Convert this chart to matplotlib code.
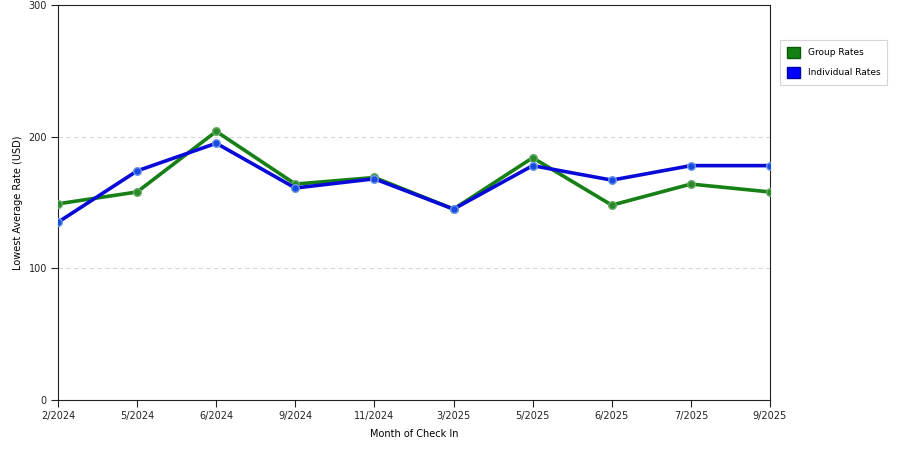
import matplotlib
matplotlib.use("Agg")
import matplotlib.pyplot as plt
from matplotlib.patches import Patch

months = ["2/2024", "5/2024", "6/2024", "9/2024", "11/2024", "3/2025",
          "5/2025", "6/2025", "7/2025", "9/2025"]
group_rates = [149, 158, 204, 164, 169, 145, 184, 148, 164, 158]
individual_rates = [135, 174, 195, 161, 168, 145, 178, 167, 178, 178]
y_ticks = [0, 100, 200, 300]

plt.rcParams['font.family'] = ['DejaVu Sans']
fig = plt.figure(figsize=(9, 4.5), dpi=100)
ax = fig.add_axes([58/900, 1-400/450, (770-58)/900, (400-5)/450])

x = list(range(len(months)))
green = "#168016"
blue = "#0a0ad8"
ax.plot(x, group_rates, color=green, lw=2.6, marker="o", ms=5.5,
        markerfacecolor="#2a8a2a", markeredgecolor="#6aaa6a", markeredgewidth=1, zorder=3)
ax.plot(x, individual_rates, color=blue, lw=2.6, marker="o", ms=5.5,
        markerfacecolor="#1a4ae0", markeredgecolor="#6a9ae8", markeredgewidth=1, zorder=4)

ax.set_xlim(0, len(months) - 1)
ax.set_ylim(0, 300)
ax.set_xticks(x)
ax.set_xticklabels(months, fontsize=7)
ax.set_yticks(y_ticks)
ax.set_yticklabels([str(v) for v in y_ticks], fontsize=7)
ax.tick_params(direction="out", length=5, width=0.8, colors="#222222", pad=3)
for s in ax.spines.values():
    s.set_color("#222222")
    s.set_linewidth(0.8)
for v in [100, 200]:
    ax.axhline(v, color="#d8d8d8", lw=0.8, ls=(0, (4, 3)), zorder=1)

ax.set_xlabel("Month of Check In", fontsize=7, labelpad=6)
ax.set_ylabel("Lowest Average Rate (USD)", fontsize=7, labelpad=4)

handles = [Patch(facecolor="#128012", edgecolor="#0a5a0a", label="Group Rates"),
           Patch(facecolor="#0000ff", edgecolor="#0000a0", label="Individual Rates")]
leg = fig.legend(handles=handles, loc="upper left", bbox_to_anchor=(780/900, 1-40/450),
                 fontsize=6.5, frameon=True, fancybox=False, edgecolor="#cccccc",
                 handlelength=1.5, handleheight=1.5, borderpad=0.75, labelspacing=1.0,
                 handletextpad=0.8, borderaxespad=0)
leg.get_frame().set_linewidth(0.8)

fig.savefig("out.png", dpi=100)
